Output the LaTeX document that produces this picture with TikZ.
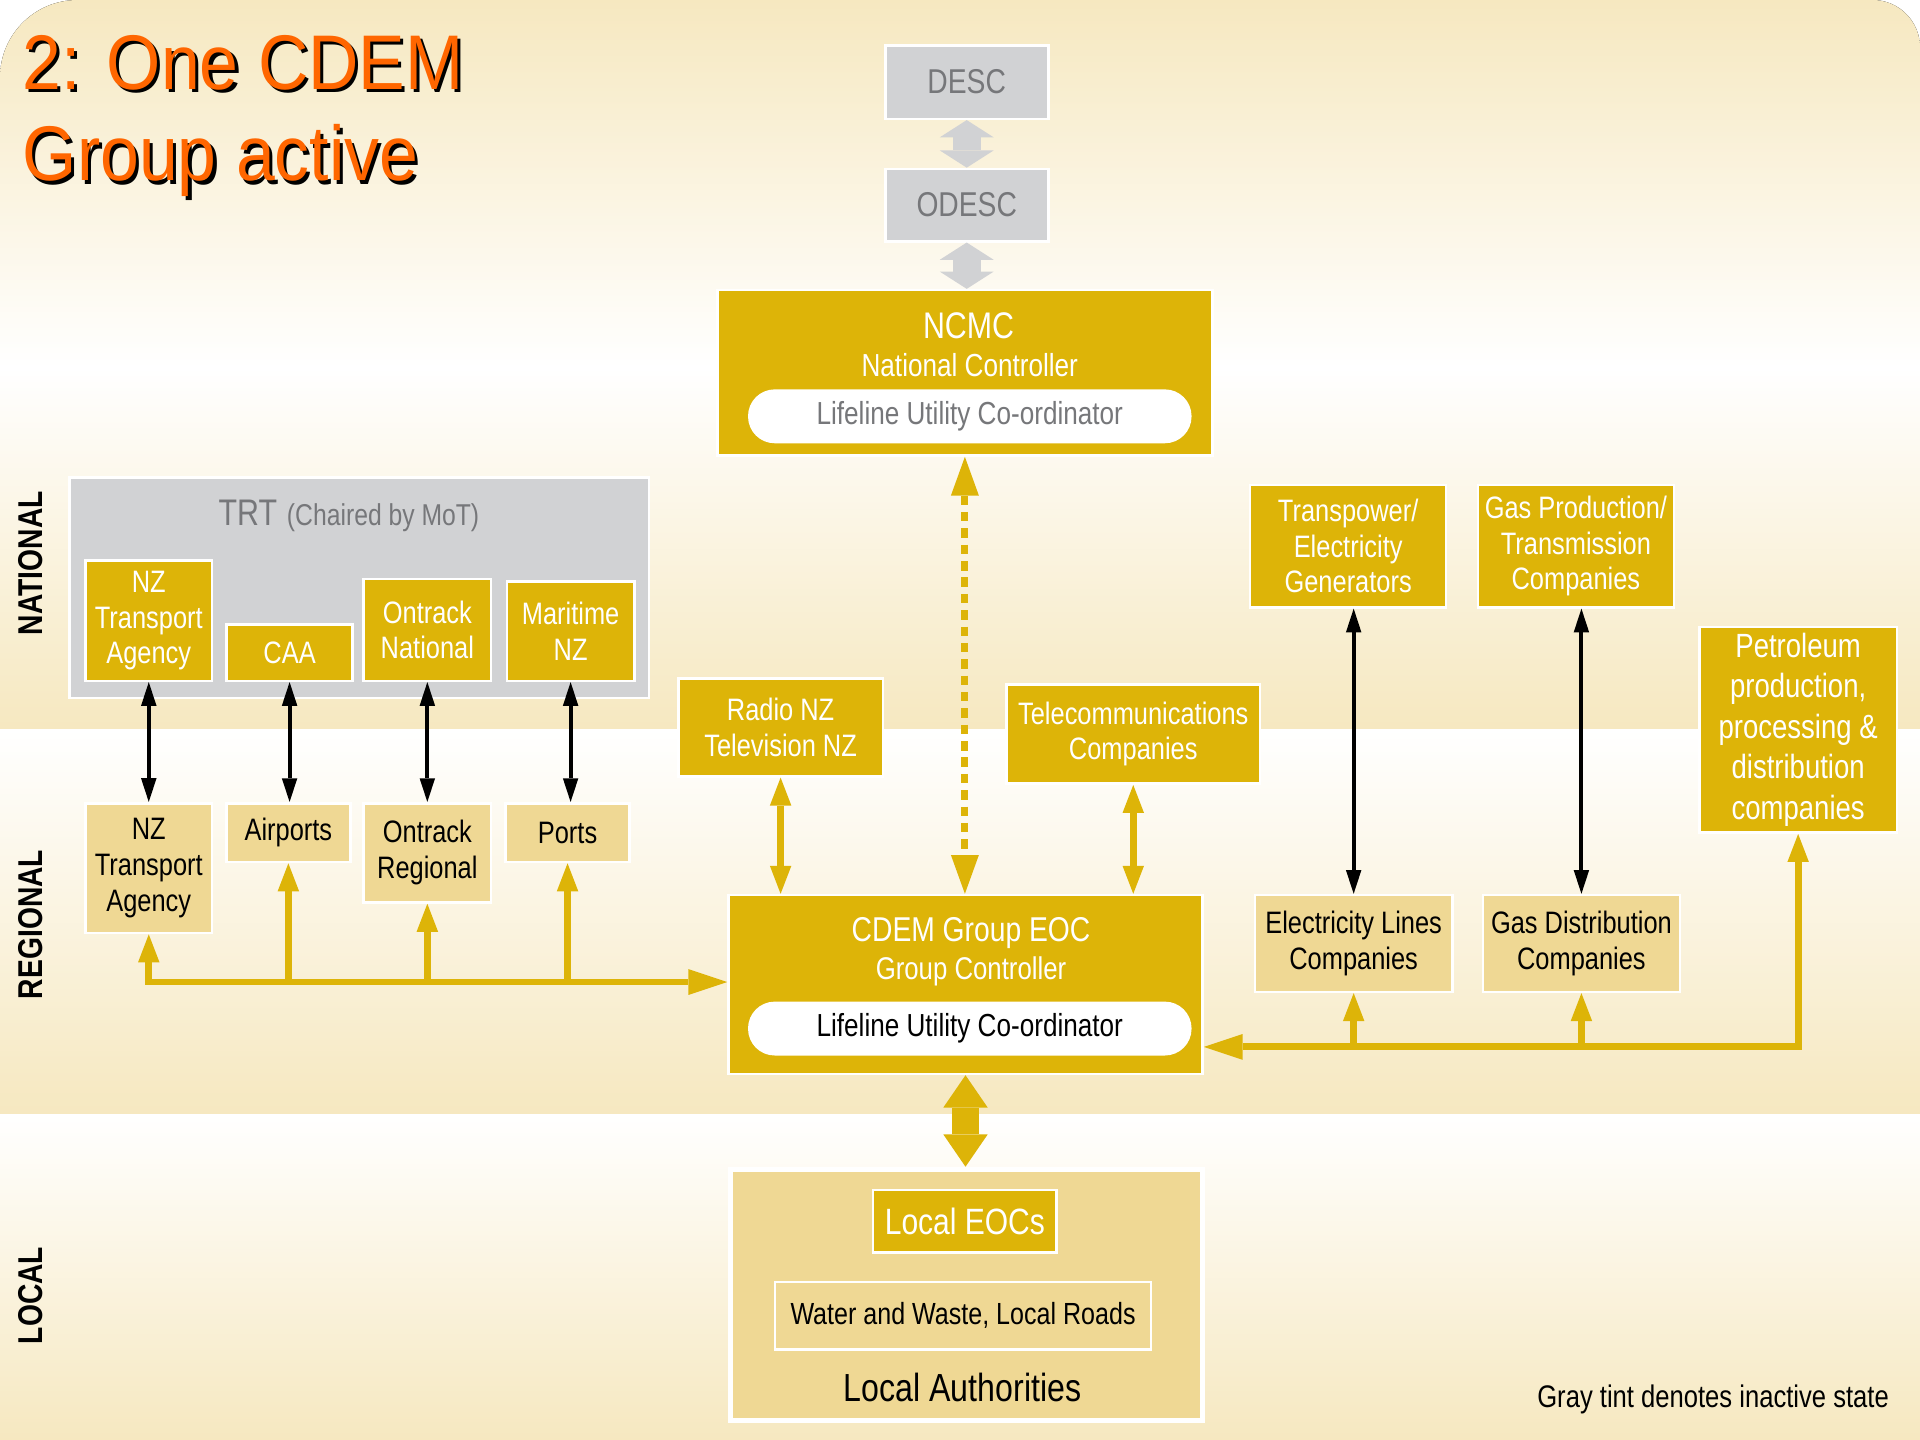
\documentclass[tikz,border=0pt]{standalone}
\usepackage{fontspec}
\setmainfont{Liberation Sans}[FakeStretch=0.82]
\newfontfamily\titlefont{Liberation Sans}[FakeStretch=0.9]
\usetikzlibrary{arrows.meta,positioning}

\definecolor{cdemgold}{RGB}{221,180,8}
\definecolor{cdemtan}{RGB}{239,216,148}
\definecolor{cdemgray}{RGB}{209,210,212}
\definecolor{cdemgraytext}{RGB}{118,119,122}
\definecolor{bandtan}{RGB}{246,232,192}
\definecolor{titleorange}{RGB}{255,102,0}

\tikzset{
  gtip/.tip={Triangle[width=5pt,length=6.5pt,line width=0pt]},
  ktip/.tip={Triangle[width=3.6pt,length=5.5pt,line width=0pt]},
  dtip/.tip={Triangle[width=6.5pt,length=9pt,line width=0pt]},
  btip/.tip={Triangle[width=12.5pt,length=4pt,line width=0pt]},
  ltip/.tip={Triangle[width=10.3pt,length=7.5pt,line width=0pt]},
  wh/.style 2 args={minimum width=#1, minimum height=#2},
  gbox/.style={rectangle, fill=cdemgold, draw=white, line width=0.6pt,
    text=white, align=center, inner sep=0pt, font=\fontsize{7.2}{8.3}\selectfont},
  tbox/.style={gbox, fill=cdemtan, text=black},
  graybox/.style={gbox, fill=cdemgray, text=cdemgraytext, font=\fontsize{8}{9.6}\selectfont},
  pill/.style={fill=white, rounded corners=6.2pt, minimum width=3.62cm,
    minimum height=0.44cm, inner sep=0pt, font=\fontsize{7.4}{9}\selectfont},
  tier/.style={rotate=90, font=\bfseries\fontsize{8}{9.6}\selectfont},
  goldline/.style={cdemgold, line width=1.6pt},
  blackarr/.style={black, line width=0.9pt, ktip-ktip},
  blockarr/.style={line width=6.5pt, btip-btip}
}

\begin{document}
\begin{tikzpicture}[x=0.01cm, y=-0.01cm]
  \useasboundingbox (0,0) rectangle (1568,1176);
  % background bands
  \fill[white] (0,0) rectangle (1568,1176);
  \begin{scope}
    \clip (0,1176) [rounded corners=18pt] -- (0,0) [rounded corners=11pt] -- (1568,0)
      [sharp corners] -- (1568,1176) -- cycle;
    \fill[top color=bandtan, bottom color=white] (0,0) rectangle (1568,300);
    \fill[top color=white, bottom color=bandtan] (0,300) rectangle (1568,596);
    \fill[top color=white, bottom color=bandtan] (0,596) rectangle (1568,910);
    \fill[top color=white, bottom color=bandtan] (0,910) rectangle (1568,1176);
  \end{scope}

  % title
  \node[anchor=north west, inner sep=0pt, align=left, text=black,
    font=\titlefont\fontsize{18}{21.3}\selectfont] (titleshadow) at (20.5,30.5) {2: One CDEM\\Group active};
  \node[anchor=north west, inner sep=0pt, align=left, text=titleorange,
    font=\titlefont\fontsize{18}{21.3}\selectfont] (title) at (18,28) {2: One CDEM\\Group active};

  % tiers
  \node[tier] (national) at (25,460) {NATIONAL};
  \node[tier] (regional) at (25,755) {REGIONAL};
  \node[tier] (localtier) at (25,1058) {LOCAL};

  % national level
  \node[graybox, wh={1.33cm}{0.60cm}] (desc) at (789.5,67) {DESC};
  \node[graybox, wh={1.33cm}{0.59cm}] (odesc) at (789.5,167.5) {ODESC};
  \node[gbox, wh={4.04cm}{1.35cm}] (ncmc) at (788,304.5) {};
  \node[text=white, font=\fontsize{8.6}{10}\selectfont] (ncmcname) at (791,266) {NCMC};
  \node[text=white, font=\fontsize{7.4}{9}\selectfont] (ncmcrole) at (792,298) {National Controller};
  \node[pill, text=cdemgraytext] (ncmcluc) at (792,340) {Lifeline Utility Co-ordinator};

  \node[gbox, fill=cdemgray, wh={4.73cm}{1.80cm}] (trt) at (293.5,480) {};
  \node[text=cdemgraytext] (trtname) at (285,421)
    {{\fontsize{8.6}{10}\selectfont TRT} {\fontsize{7}{8}\selectfont (Chaired by MoT)}};
  \node[gbox, wh={1.03cm}{0.98cm}] (nzta) at (121.5,507) {NZ\\Transport\\Agency};
  \node[gbox, wh={1.03cm}{0.46cm}] (caa) at (236.5,533) {CAA};
  \node[gbox, wh={1.04cm}{0.83cm}] (ontn) at (349,514.5) {Ontrack\\National};
  \node[gbox, wh={1.04cm}{0.81cm}] (marnz) at (466,515.5) {Maritime\\NZ};

  \node[gbox, wh={1.67cm}{0.80cm}] (radio) at (637.5,594) {Radio NZ\\Television NZ};
  \node[gbox, wh={2.07cm}{0.81cm}] (telco) at (925.5,599.5) {Telecommunications\\Companies};
  \node[gbox, wh={1.60cm}{1.00cm}] (tpower) at (1101,446) {Transpower/\\Electricity\\Generators};
  \node[gbox, wh={1.60cm}{1.00cm}] (gasprod) at (1287,446) {Gas Production/\\Transmission\\Companies};
  \node[gbox, wh={1.61cm}{1.68cm}, font=\fontsize{7.8}{9.4}\selectfont] (petrol) at (1468.5,596)
    {Petroleum\\production,\\processing \&\\distribution\\companies};

  % regional level
  \node[tbox, wh={1.03cm}{1.06cm}] (nztar) at (121.5,709) {NZ\\Transport\\Agency};
  \node[tbox, wh={1.01cm}{0.48cm}] (airp) at (235.5,680) {Airports};
  \node[tbox, wh={1.04cm}{0.81cm}] (ontr) at (349,696.5) {Ontrack\\Regional};
  \node[tbox, wh={1.01cm}{0.48cm}] (ports) at (463.5,680) {Ports};

  \node[gbox, wh={3.87cm}{1.46cm}] (cdem) at (788.5,804) {};
  \node[text=white, font=\fontsize{8}{9.6}\selectfont] (cdemname) at (793,762) {CDEM Group EOC};
  \node[text=white, font=\fontsize{7.3}{8.8}\selectfont] (cdemrole) at (793,793) {Group Controller};
  \node[pill] (cdemluc) at (792,840) {Lifeline Utility Co-ordinator};

  \node[tbox, wh={1.61cm}{0.79cm}] (elines) at (1105.5,770.5) {Electricity Lines\\Companies};
  \node[tbox, wh={1.61cm}{0.79cm}] (gasdist) at (1291.5,770.5) {Gas Distribution\\Companies};

  % local level
  \node[tbox, wh={3.85cm}{2.05cm}, line width=1.2pt] (local) at (789.5,1057.5) {};
  \node[gbox, wh={1.50cm}{0.51cm}, font=\fontsize{8.5}{10}\selectfont] (leoc) at (788,997.5) {Local EOCs};
  \node[tbox, wh={3.07cm}{0.55cm}, font=\fontsize{7.1}{8.5}\selectfont] (water) at (786.5,1074.5)
    {Water and Waste, Local Roads};
  \node[font=\fontsize{9.1}{11}\selectfont] (localauth) at (786,1133) {Local Authorities};

  \node[font=\fontsize{7.25}{8.7}\selectfont] (note) at (1399,1143) {Gray tint denotes inactive state};

  % connectors
  \draw[blockarr, cdemgray] (desc.south) -- (desc.south |- odesc.north);
  \draw[blockarr, cdemgray] (odesc.south) -- (odesc.south |- ncmc.north);
  \draw[goldline, dash pattern=on 2.2pt off 1.6pt, dtip-dtip] (ncmc.south) -- (ncmc.south |- cdem.north);
  \draw[cdemgold, line width=6.2pt, ltip-ltip] (cdem.south) -- (cdem.south |- local.north);

  \draw[blackarr] (nzta.south) -- (nzta.south |- nztar.north);
  \draw[blackarr] (caa.south) -- (caa.south |- airp.north);
  \draw[blackarr] (ontn.south) -- (ontn.south |- ontr.north);
  \draw[blackarr] (marnz.south) -- (marnz.south |- ports.north);
  \draw[blackarr] (elines.north |- tpower.south) -- (elines.north);
  \draw[blackarr] (gasdist.north |- gasprod.south) -- (gasdist.north);

  \draw[goldline, gtip-gtip] (radio.south) -- (radio.south |- cdem.north);
  \draw[goldline, gtip-gtip] (telco.south) -- (telco.south |- cdem.north);

  \coordinate (lbus) at (122,802);
  \draw[goldline, gtip-{Triangle[width=6pt,length=9pt,line width=0pt]}] (nztar.south) |- (lbus -| cdem.west);
  \draw[goldline, -gtip] (airp.south |- lbus) -- (airp.south);
  \draw[goldline, -gtip] (ontr.south |- lbus) -- (ontr.south);
  \draw[goldline, -gtip] (ports.south |- lbus) -- (ports.south);

  \coordinate (rbus) at (1471,855);
  \draw[goldline, gtip-{Triangle[width=6pt,length=9pt,line width=0pt]}] (petrol.south) |- (rbus -| cdem.east);
  \draw[goldline, -gtip] (elines.south |- rbus) -- (elines.south);
  \draw[goldline, -gtip] (gasdist.south |- rbus) -- (gasdist.south);
\end{tikzpicture}
\end{document}
